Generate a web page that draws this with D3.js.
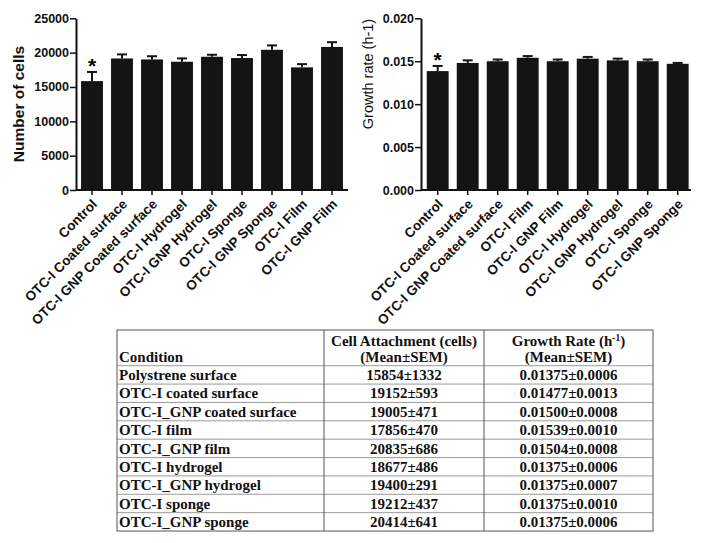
<!DOCTYPE html>
<html>
<head>
<meta charset="utf-8">
<script src="https://cdn.jsdelivr.net/npm/d3@7"></script>
<style>
  body { margin: 0; background: #fff; }
  svg { display: block; }
</style>
</head>
<body>
<div id="container"></div>
<script>
// left chart: cell attachment
const cellCategories = ["Control", "OTC-I Coated surface", "OTC-I GNP Coated surface", "OTC-I Hydrogel",
  "OTC-I GNP Hydrogel", "OTC-I Sponge", "OTC-I GNP Sponge", "OTC-I Film", "OTC-I GNP Film"];
const cellMeans = [15854, 19152, 19005, 18677, 19400, 19212, 20414, 17856, 20835];
const cellSems = [1332, 593, 471, 486, 291, 437, 641, 470, 686];
const cellTicks = [0, 5000, 10000, 15000, 20000, 25000];

// right chart: growth rate
const rateCategories = ["Control", "OTC-I Coated surface", "OTC-I GNP Coated surface", "OTC-I Film",
  "OTC-I GNP Film", "OTC-I Hydrogel", "OTC-I GNP Hydrogel", "OTC-I Sponge", "OTC-I GNP Sponge"];
const rateMeans = [0.01385, 0.0148, 0.0150, 0.0154, 0.0150, 0.0153, 0.0151, 0.0150, 0.0147];
const rateSems = [0.0006, 0.0003, 0.0002, 0.0002, 0.0002, 0.0002, 0.0002, 0.0002, 0.0001];
const rateTicks = [0, 0.005, 0.010, 0.015, 0.020];

// table
const tableConditions = ["Polystrene surface", "OTC-I coated surface", "OTC-I_GNP coated surface", "OTC-I film",
  "OTC-I_GNP film", "OTC-I hydrogel", "OTC-I_GNP hydrogel", "OTC-I sponge", "OTC-I_GNP sponge"];
const tableCellMean = ["15854", "19152", "19005", "17856", "20835", "18677", "19400", "19212", "20414"];
const tableCellSem = ["1332", "593", "471", "470", "686", "486", "291", "437", "641"];
const tableRateMean = ["0.01375", "0.01477", "0.01500", "0.01539", "0.01504", "0.01375", "0.01375", "0.01375", "0.01375"];
const tableRateSem = ["0.0006", "0.0013", "0.0008", "0.0010", "0.0008", "0.0006", "0.0007", "0.0010", "0.0006"];

const svg = d3.select("#container").append("svg")
  .attr("width", 707)
  .attr("height", 543);

const sans = "'Liberation Sans', Arial, sans-serif";
const serif = "'Liberation Serif', 'Times New Roman', serif";

function drawChart(opt) {
  const x = d3.scaleBand()
    .domain(opt.categories)
    .range([opt.x0, opt.x0 + 270])
    .paddingInner(0.27)
    .paddingOuter(0.135);
  const y = d3.scaleLinear()
    .domain([0, opt.max])
    .range([190, 18.3]);

  const g = svg.append("g");

  // bars
  g.selectAll(".bar")
    .data(opt.means)
    .join("rect")
    .attr("x", (d, i) => x(opt.categories[i]))
    .attr("y", d => y(d))
    .attr("width", x.bandwidth())
    .attr("height", d => y(0) - y(d))
    .attr("fill", "#141414");

  // error bars (upper half only)
  opt.means.forEach((m, i) => {
    const cx = x(opt.categories[i]) + x.bandwidth() / 2;
    const top = y(m + opt.sems[i]);
    g.append("line")
      .attr("x1", cx).attr("x2", cx)
      .attr("y1", y(m)).attr("y2", top)
      .attr("stroke", "#141414").attr("stroke-width", 2);
    g.append("line")
      .attr("x1", cx - 5).attr("x2", cx + 5)
      .attr("y1", top).attr("y2", top)
      .attr("stroke", "#141414").attr("stroke-width", 2);
  });

  // asterisk on control
  const c0 = x(opt.categories[0]) + x.bandwidth() / 2;
  g.append("text")
    .attr("x", c0)
    .attr("y", y(opt.means[0] + opt.sems[0]) + opt.starDy)
    .attr("text-anchor", "middle")
    .attr("font-family", sans)
    .attr("font-weight", "bold")
    .attr("font-size", 21)
    .text("*");

  // y axis
  const yAxis = g.append("g")
    .attr("transform", `translate(${opt.axisX},0)`)
    .call(d3.axisLeft(y).tickValues(opt.ticks).tickFormat(opt.format).tickSize(6).tickSizeOuter(0));
  yAxis.select(".domain").attr("stroke", "#111").attr("stroke-width", 2);
  yAxis.selectAll(".tick line").attr("stroke", "#111").attr("stroke-width", 1.5);
  yAxis.selectAll(".tick text")
    .attr("x", -7)
    .attr("font-family", sans)
    .attr("font-weight", "bold")
    .attr("font-size", 12.5)
    .attr("fill", "#111");

  // x axis
  const xAxis = g.append("g")
    .attr("transform", "translate(0,190)")
    .call(d3.axisBottom(x).tickSize(5).tickSizeOuter(0));
  xAxis.select(".domain")
    .attr("d", `M${opt.axisX},0H${opt.axisEnd}`)
    .attr("stroke", "#111").attr("stroke-width", 2);
  xAxis.selectAll(".tick line").attr("stroke", "#111").attr("stroke-width", 1.5);
  xAxis.selectAll(".tick text")
    .attr("font-family", sans)
    .attr("font-weight", "bold")
    .attr("font-size", 13.5)
    .attr("fill", "#111")
    .attr("text-anchor", "end")
    .attr("x", 0).attr("y", 0).attr("dy", 0)
    .attr("transform", "translate(6,15) rotate(-45)");

  // y label
  g.append("text")
    .attr("transform", `translate(${opt.labelX},${opt.labelY}) rotate(-90)`)
    .attr("text-anchor", "middle")
    .attr("dy", "0.35em")
    .attr("font-family", sans)
    .attr("font-weight", opt.labelWeight)
    .attr("font-size", opt.labelSize)
    .attr("fill", "#111")
    .text(opt.label);
}

drawChart({
  categories: cellCategories, means: cellMeans, sems: cellSems, ticks: cellTicks,
  max: 25000, x0: 77, axisX: 76, axisEnd: 348, format: d3.format("d"),
  label: "Number of cells", labelX: 19, labelY: 104, labelSize: 15.5, labelWeight: "bold", starDy: 1
});

drawChart({
  categories: rateCategories, means: rateMeans, sems: rateSems, ticks: rateTicks,
  max: 0.020, x0: 422.7, axisX: 421, axisEnd: 691, format: d3.format(".3f"),
  label: "Growth rate (h-1)", labelX: 368, labelY: 74, labelSize: 14.5, labelWeight: "normal", starDy: 1.5
});

// table
const tLeft = 117, tRight = 653, tTop = 330, headBottom = 365.7, rowH = 18.37;
const colX = [tLeft, 324, 484, tRight];
const tBottom = headBottom + rowH * tableConditions.length;
const fs = 15;
const table = svg.append("g").attr("font-family", serif).attr("font-weight", "bold").attr("fill", "#111");

// row separators
tableConditions.forEach((d, i) => {
  const yy = headBottom + rowH * i;
  table.append("line")
    .attr("x1", tLeft).attr("x2", tRight)
    .attr("y1", yy).attr("y2", yy)
    .attr("stroke", "#9a9a9a").attr("stroke-width", 1);
});
// column separators
[colX[1], colX[2]].forEach(cx => {
  table.append("line")
    .attr("x1", cx).attr("x2", cx)
    .attr("y1", tTop).attr("y2", tBottom)
    .attr("stroke", "#555").attr("stroke-width", 1);
});
table.append("rect")
  .attr("x", tLeft).attr("y", tTop)
  .attr("width", tRight - tLeft).attr("height", tBottom - tTop)
  .attr("fill", "none").attr("stroke", "#555").attr("stroke-width", 1);

// header
const c1 = (colX[1] + colX[2]) / 2, c2 = (colX[2] + colX[3]) / 2;
table.append("text").attr("x", tLeft + 2).attr("y", 362).attr("font-size", fs).text("Condition");
table.append("text").attr("x", c1).attr("y", 345.5).attr("text-anchor", "middle").attr("font-size", fs)
  .text("Cell Attachment (cells)");
table.append("text").attr("x", c1).attr("y", 362).attr("text-anchor", "middle").attr("font-size", fs)
  .text("(Mean±SEM)");
const gr = table.append("text").attr("x", c2).attr("y", 345.5).attr("text-anchor", "middle").attr("font-size", fs);
gr.append("tspan").text("Growth Rate (h");
gr.append("tspan").attr("font-size", 9.5).attr("dy", -5).text("-1");
gr.append("tspan").attr("dy", 5).text(")");
table.append("text").attr("x", c2).attr("y", 362).attr("text-anchor", "middle").attr("font-size", fs)
  .text("(Mean±SEM)");

// rows
tableConditions.forEach((d, i) => {
  const base = headBottom + rowH * (i + 1) - 4;
  table.append("text").attr("x", tLeft + 2).attr("y", base).attr("font-size", fs).text(d);
  table.append("text").attr("x", c1).attr("y", base).attr("text-anchor", "middle").attr("font-size", fs)
    .text(`${tableCellMean[i]}±${tableCellSem[i]}`);
  table.append("text").attr("x", c2).attr("y", base).attr("text-anchor", "middle").attr("font-size", fs)
    .text(`${tableRateMean[i]}±${tableRateSem[i]}`);
});
</script>
</body>
</html>
